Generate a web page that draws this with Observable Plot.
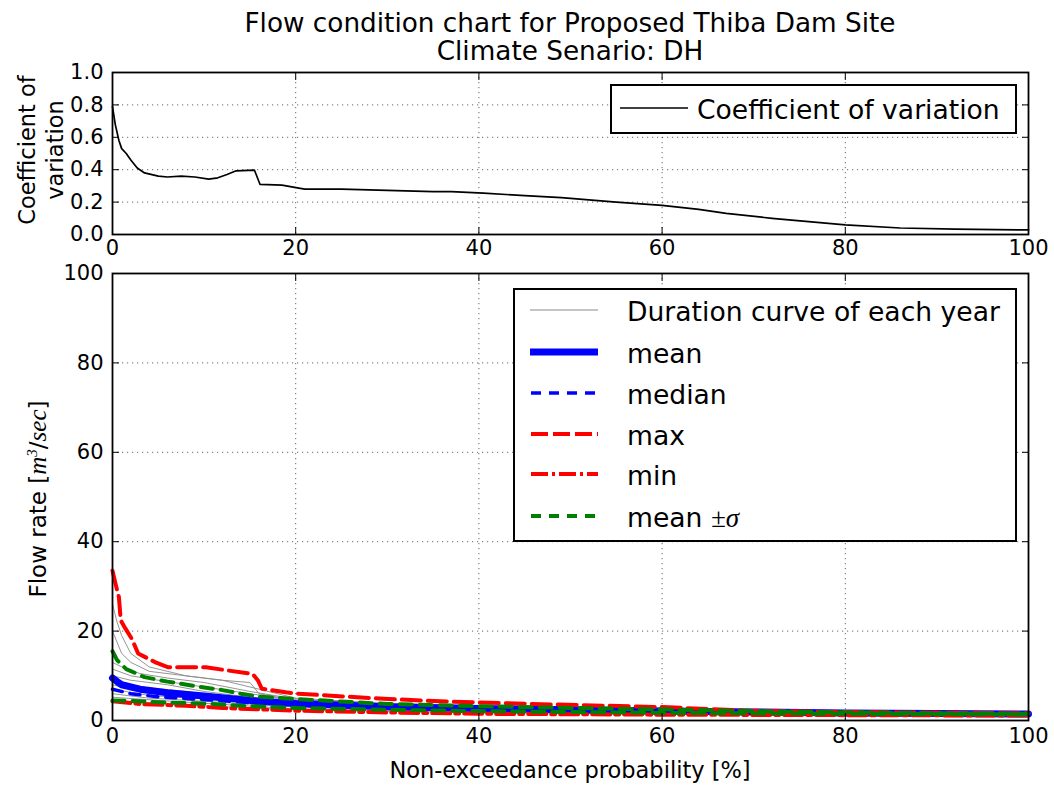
<!DOCTYPE html>
<html><head><meta charset="utf-8">
<script src="https://cdn.jsdelivr.net/npm/d3@7"></script>
<script src="https://cdn.jsdelivr.net/npm/@observablehq/plot@0.6"></script>
<style>
body{margin:0;background:#fff;}
#fig{position:relative;width:1054px;height:785px;font-family:"DejaVu Sans";color:#000;overflow:hidden;background:#fff}
.abs{position:absolute;white-space:nowrap}
.cm{font-family:"Liberation Serif","DejaVu Serif",serif;font-style:italic}
</style></head><body><div id="fig"></div>
<script>
// ---------- data ----------
const xTicks = [0, 20, 40, 60, 80, 100];
const cvTicks = [0, 0.2, 0.4, 0.6, 0.8, 1.0];
const flowTicks = [0, 20, 40, 60, 80, 100];

// coefficient of variation  [non-exceedance %, CV]
const cvCurve = [[0,0.79],[0.3,0.68],[0.7,0.58],[1,0.53],[1.5,0.5],[2,0.46],[2.7,0.41],[3.5,0.38],[5,0.36],[6,0.355],[7.5,0.36],[9,0.355],[10.5,0.342],[11.5,0.35],[12.5,0.37],[13.5,0.393],[15.5,0.397],[16.1,0.31],[18.5,0.305],[20.5,0.285],[21,0.28],[25,0.28],[30,0.272],[35,0.265],[37,0.265],[40.5,0.255],[45,0.24],[49,0.228],[55,0.2],[60,0.18],[64,0.155],[67,0.13],[72,0.1],[76,0.08],[80,0.06],[86,0.04],[92,0.033],[100,0.028]];

// duration curves of individual years  [non-exceedance %, flow m3/s]
const year1 = [[0,26],[0.5,22],[1,19],[2,15],[4,12],[8,10],[12,9],[15,8.5],[16,6],[20,4.5],[30,3.5],[50,2.6],[70,2],[100,1.6]];
const year2 = [[0,20],[1,15],[2,13],[4,11],[8,10],[12,9],[16,7],[20,5],[30,3.8],[50,2.8],[70,2.1],[100,1.6]];
const year3 = [[0,13],[1,12],[3,10.5],[6,9.5],[10,8.5],[15,6.5],[20,4.8],[30,3.5],[50,2.6],[70,2],[100,1.5]];
const year4 = [[0,11.5],[2,10],[5,9],[10,7.5],[15,6],[20,4.5],[30,3.3],[50,2.5],[70,1.9],[100,1.5]];
const year5 = [[0,10],[2,9],[6,8],[10,6.5],[15,5.2],[20,4.2],[30,3.1],[50,2.4],[70,1.9],[100,1.5]];
const year6 = [[0,9],[3,7.5],[8,6.5],[12,5.5],[20,3.8],[30,3],[50,2.3],[70,1.8],[100,1.45]];
const year7 = [[0,8],[3,6.5],[8,5.5],[15,4.2],[20,3.5],[30,2.8],[50,2.2],[70,1.8],[100,1.4]];
const year8 = [[0,7],[4,5.6],[10,4.8],[20,3.2],[30,2.6],[50,2.1],[70,1.7],[100,1.4]];
const year9 = [[0,6],[4,5],[10,4.3],[20,3],[30,2.5],[50,2],[70,1.7],[100,1.35]];
const year10 = [[0,5.2],[5,4.5],[12,3.6],[20,2.6],[30,2.2],[50,1.8],[70,1.5],[100,1.3]];
const year11 = [[0,4.5],[5,3.8],[12,3.1],[20,2.4],[40,1.7],[70,1.4],[100,1.2]];

const meanCurve = [[0,9.5],[0.5,8.7],[1,8],[3,7],[6,6.2],[10,5.5],[15,4.5],[20,3.8],[30,3.1],[40,2.7],[50,2.4],[60,2.1],[70,1.9],[80,1.7],[90,1.55],[100,1.45]];
const medianCurve = [[0,7],[2,6],[5,5.3],[10,4.7],[15,4],[20,3.4],[30,2.8],[40,2.4],[60,1.9],[80,1.6],[100,1.4]];
const maxCurve = [[0,33.5],[0.4,30],[0.7,27.6],[0.9,22.4],[1.4,20.6],[2.1,18.3],[2.8,15],[4.7,13],[6.1,11.9],[10.2,11.9],[15.3,10.4],[15.9,8.9],[16.3,7.1],[18.9,6.3],[20.2,6],[29.6,4.85],[37,4.2],[47.8,3.6],[60,3.0],[69.3,2.2],[80,1.9],[100,1.6]];
const minCurve = [[0,4.3],[3,3.7],[8,3.3],[12,2.8],[20,2.2],[30,1.8],[40,1.5],[60,1.3],[80,1.2],[100,1.1]];
const upperSigma = [[0,15.5],[0.5,13.5],[1.5,11.5],[3.5,9.7],[6,8.7],[9,7.7],[12,6.8],[14,6],[16,5.3],[20,4.8],[30,3.7],[40,3.2],[50,2.8],[60,2.5],[70,2.1],[80,1.8],[90,1.6],[100,1.5]];
const lowerSigma = [[0,4.5],[3,4.3],[6,4],[10,3.8],[15,3.2],[20,2.8],[30,2.4],[40,2.1],[60,1.7],[80,1.5],[100,1.35]];

// ---------- helpers ----------
const toObj = arr => arr.map(([x, y]) => ({x, y}));
const years = [year1, year2, year3, year4, year5, year6, year7, year8, year9, year10, year11];
const yearRows = years.flatMap((c, i) => c.map(([x, y]) => ({x, y, year: i})));

const fig = document.getElementById("fig");
const grid = {stroke: "#000", strokeOpacity: 0.6, strokeDasharray: "1.2,3.8", strokeWidth: 1};
const blank = () => "";
const W = 1054, ML = 112, MR = 26;

function place(el, left, top) {
  el.style.position = "absolute"; el.style.left = left + "px"; el.style.top = top + "px";
  fig.appendChild(el);
}

// ---------- top panel: coefficient of variation ----------
const topPlot = Plot.plot({
  width: W, height: 200, marginTop: 12, marginBottom: 26, marginLeft: ML, marginRight: MR,
  style: {fontFamily: "DejaVu Sans", fontSize: "21px", color: "#000", background: "transparent", overflow: "visible"},
  x: {domain: [0, 100]}, y: {domain: [0, 1]},
  marks: [
    Plot.gridX([20, 40, 60, 80], grid),
    Plot.gridY([0.2, 0.4, 0.6, 0.8], grid),
    Plot.line(toObj(cvCurve), {x: "x", y: "y", stroke: "#000", strokeWidth: 1.7}),
    Plot.axisX(xTicks, {anchor: "bottom", tickSize: -7, tickPadding: 13, tickFormat: d => d, label: null}),
    Plot.axisX(xTicks, {anchor: "top", tickSize: -7, tickFormat: blank, label: null}),
    Plot.axisY(cvTicks, {anchor: "left", tickSize: -7, tickPadding: 16, tickFormat: d3.format(".1f"), label: null}),
    Plot.axisY(cvTicks, {anchor: "right", tickSize: -7, tickFormat: blank, label: null}),
    Plot.frame({stroke: "#000", strokeWidth: 1.8})
  ]
});
place(topPlot, 0, 60);

// ---------- bottom panel: flow duration curves ----------
const botPlot = Plot.plot({
  width: W, height: 523, marginTop: 11, marginBottom: 65, marginLeft: ML, marginRight: MR,
  style: {fontFamily: "DejaVu Sans", fontSize: "21px", color: "#000", background: "transparent", overflow: "visible"},
  x: {domain: [0, 100]}, y: {domain: [0, 100]},
  marks: [
    Plot.gridX([20, 40, 60, 80], grid),
    Plot.gridY([20, 40, 60, 80], grid),
    Plot.line(yearRows, {x: "x", y: "y", z: "year", stroke: "#8a8a8a", strokeWidth: 1, strokeOpacity: 0.9}),
    Plot.line(toObj(meanCurve), {x: "x", y: "y", stroke: "#0000ff", strokeWidth: 7}),
    Plot.line(toObj(medianCurve), {x: "x", y: "y", stroke: "#0000ff", strokeWidth: 3.5, strokeDasharray: "10,8"}),
    Plot.line(toObj(maxCurve), {x: "x", y: "y", stroke: "#ff0000", strokeWidth: 4, strokeDasharray: "19,7"}),
    Plot.line(toObj(minCurve), {x: "x", y: "y", stroke: "#ff0000", strokeWidth: 4, strokeDasharray: "18,5,4,5"}),
    Plot.line(toObj(upperSigma), {x: "x", y: "y", stroke: "#008000", strokeWidth: 4, strokeDasharray: "12,8"}),
    Plot.line(toObj(lowerSigma), {x: "x", y: "y", stroke: "#008000", strokeWidth: 4, strokeDasharray: "12,8"}),
    Plot.axisX(xTicks, {anchor: "bottom", tickSize: -7, tickPadding: 15, tickFormat: d => d, label: null}),
    Plot.axisX(xTicks, {anchor: "top", tickSize: -7, tickFormat: blank, label: null}),
    Plot.axisY(flowTicks, {anchor: "left", tickSize: -7, tickPadding: 16, tickFormat: d => d, label: null}),
    Plot.axisY(flowTicks, {anchor: "right", tickSize: -7, tickFormat: blank, label: null}),
    Plot.frame({stroke: "#000", strokeWidth: 1.8})
  ]
});
place(botPlot, 0, 262);

// ---------- titles and axis labels ----------
const title = document.createElement("div");
title.className = "abs";
title.style.cssText = "width:1054px;text-align:center;font-size:26.3px;line-height:28px;";
title.innerHTML = "<div style='position:relative;left:" + ((ML + W - MR) / 2 - W / 2) + "px'>Flow condition chart for Proposed Thiba Dam Site<br>Climate Senario: DH</div>";
place(title, 0, 9);

const xlab = document.createElement("div");
xlab.className = "abs";
xlab.style.cssText = "width:" + (W - ML - MR) + "px;text-align:center;font-size:22.5px;line-height:26px;";
xlab.textContent = "Non-exceedance probability [%]";
place(xlab, ML, 757);

const cvLab = document.createElement("div");
cvLab.className = "abs";
cvLab.style.cssText = "font-size:22.5px;line-height:28px;text-align:center;transform:translate(-50%,-50%) rotate(-90deg);";
cvLab.innerHTML = "Coefficient of<br>variation";
place(cvLab, 41, 150);

const flowLab = document.createElement("div");
flowLab.className = "abs";
flowLab.style.cssText = "font-size:23px;line-height:26px;transform:translate(-50%,-50%) rotate(-90deg);";
flowLab.innerHTML = "Flow rate [<span class='cm' style='font-size:25px'>m</span><sup style='font-size:15px;line-height:0' class='cm'>3</sup>/<span class='cm' style='font-size:25px'>sec</span>]";
place(flowLab, 38, 499);

// ---------- legends ----------
function legend(left, top, width, height, items, rowTops) {
  const ns = "http://www.w3.org/2000/svg";
  const box = document.createElement("div");
  box.style.cssText = `width:${width}px;height:${height}px;border:2px solid #000;background:#fff;box-sizing:border-box;`;
  const svg = document.createElementNS(ns, "svg");
  svg.setAttribute("width", width); svg.setAttribute("height", height);
  svg.style.position = "absolute"; svg.style.left = "-2px"; svg.style.top = "-2px";
  items.forEach((it, i) => {
    const y = rowTops[i];
    const l = document.createElementNS(ns, "line");
    l.setAttribute("x1", it.x1); l.setAttribute("x2", it.x2);
    l.setAttribute("y1", y); l.setAttribute("y2", y);
    l.setAttribute("stroke", it.stroke); l.setAttribute("stroke-width", it.w);
    if (it.dash) l.setAttribute("stroke-dasharray", it.dash);
    svg.appendChild(l);
    const t = document.createElement("div");
    t.className = "abs";
    t.style.cssText = `left:${it.tx}px;top:${y - 16}px;font-size:26.6px;line-height:32px;`;
    t.innerHTML = it.label;
    box.appendChild(t);
  });
  box.appendChild(svg);
  place(box, left, top);
}

legend(610, 84, 407, 50,
  [{label: "Coefficient of variation", stroke: "#000", w: 1.7, x1: 10, x2: 78, tx: 85}],
  [24]);

const legendLabels = ["Duration curve of each year", "mean", "median", "max", "min", "mean <span class='cm' style='font-size:27px'>±σ</span>"];
legend(513, 288, 504, 254, [
  {label: legendLabels[0], stroke: "#8a8a8a", w: 1, x1: 17, x2: 85, tx: 112},
  {label: legendLabels[1], stroke: "#0000ff", w: 7, x1: 17, x2: 85, tx: 112},
  {label: legendLabels[2], stroke: "#0000ff", w: 3.5, dash: "10,8", x1: 18, x2: 85, tx: 112},
  {label: legendLabels[3], stroke: "#ff0000", w: 4, dash: "17,5", x1: 18, x2: 85, tx: 112},
  {label: legendLabels[4], stroke: "#ff0000", w: 4, dash: "17,4,3,4", x1: 18, x2: 85, tx: 112},
  {label: legendLabels[5], stroke: "#008000", w: 4, dash: "10,8", x1: 18, x2: 85, tx: 112}
], [22, 64, 105, 146, 186, 228]);
</script></body></html>
